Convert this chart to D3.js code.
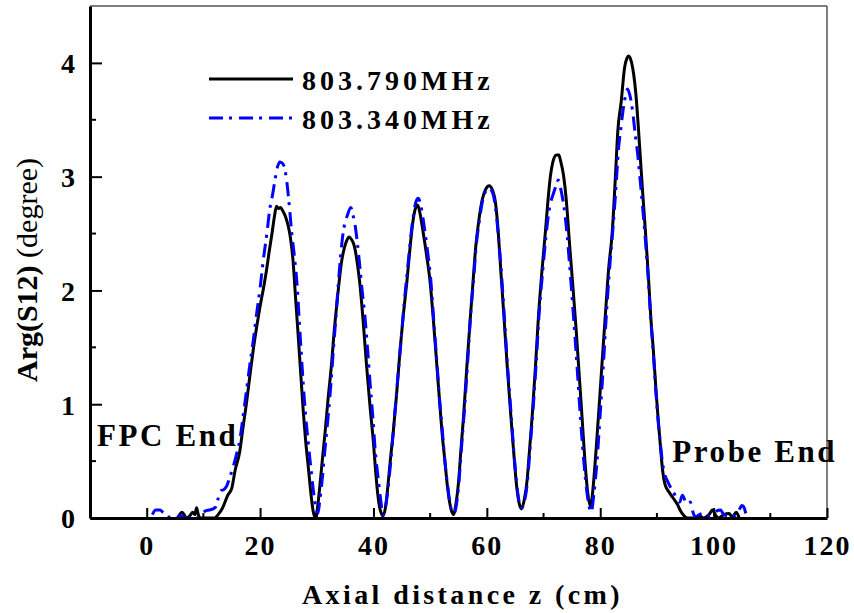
<!DOCTYPE html>
<html>
<head>
<meta charset="utf-8">
<script src="https://cdn.jsdelivr.net/npm/d3@7"></script>
<style>
  html, body { margin: 0; padding: 0; background: #fff; }
  svg { display: block; }
  text { font-family: "Liberation Serif", "Times New Roman", serif; fill: #000; }
</style>
</head>
<body>
<svg id="chart" width="854" height="613"></svg>
<script>
// Phase of S12 along the cavity axis, bead-pull measurement at two frequencies.
const seriesNames = ["803.790MHz", "803.340MHz"];

// 803.790 MHz: axial position (cm) and phase (degree)
const zA = [5.5,6.2,6.6,7.0,7.6,8.1,8.5,8.8,9.1,9.4,12.0,12.6,13.4,14.3,15.0,15.6,16.4,17.0,17.6,18.2,18.8,19.4,20.0,20.6,21.2,21.6,22.1,22.5,22.9,23.2,23.6,24.0,24.4,24.9,25.3,25.8,26.2,26.7,27.2,27.6,28.0,28.5,29.0,29.4,29.8,30.2,30.6,31.0,31.5,32.0,32.6,33.0,33.5,34.0,34.4,34.9,35.3,35.7,36.1,36.5,36.8,37.2,37.6,38.2,38.8,39.4,40.0,40.4,40.8,41.2,41.7,42.2,42.6,43.0,43.5,44.1,44.7,45.3,45.9,46.5,47.0,47.4,47.8,48.2,48.8,49.4,50.0,50.6,51.2,51.7,52.1,52.6,53.0,53.5,54.1,54.6,55.0,55.4,55.9,56.5,57.1,57.6,58.0,58.6,59.2,59.8,60.4,61.0,61.5,62.0,62.4,63.0,63.6,64.2,64.7,65.3,65.7,66.1,66.6,67.1,67.5,68.0,68.6,69.1,69.7,70.3,70.8,71.2,71.6,71.9,72.3,72.7,73.0,73.5,74.0,74.6,75.2,75.8,76.3,76.8,77.3,77.8,78.3,78.8,79.3,79.9,80.4,80.9,81.5,82.1,82.7,83.1,83.7,84.3,84.7,85.0,85.5,85.9,86.3,86.7,87.1,87.5,88.0,88.5,88.9,89.4,89.8,90.2,90.6,91.0,91.4,92.1,92.8,93.6,94.2,94.8,95.4,96.5,97.5,98.2,99.2,99.8,100.4,100.9,101.8,102.7,103.3,104.0,104.5];
const vA = [0.00,0.05,0.03,0.00,0.02,0.05,0.03,0.09,0.03,0.00,0.00,0.03,0.09,0.20,0.26,0.42,0.58,0.80,1.01,1.25,1.48,1.68,1.86,2.02,2.20,2.34,2.50,2.64,2.74,2.72,2.73,2.70,2.66,2.58,2.48,2.27,1.98,1.62,1.25,0.95,0.70,0.45,0.20,0.05,0.00,0.12,0.31,0.52,0.77,1.05,1.35,1.60,1.86,2.10,2.26,2.38,2.44,2.47,2.45,2.41,2.35,2.22,2.06,1.72,1.33,0.98,0.66,0.40,0.19,0.07,0.02,0.12,0.31,0.52,0.76,1.10,1.48,1.80,2.08,2.40,2.62,2.72,2.75,2.68,2.50,2.30,2.07,1.72,1.33,1.00,0.75,0.50,0.30,0.12,0.03,0.14,0.31,0.58,0.90,1.35,1.77,2.10,2.36,2.62,2.80,2.89,2.92,2.88,2.78,2.52,2.22,1.78,1.33,0.92,0.60,0.26,0.13,0.08,0.16,0.33,0.58,0.90,1.35,1.77,2.16,2.50,2.80,3.00,3.12,3.17,3.19,3.19,3.14,3.02,2.80,2.40,2.02,1.62,1.25,0.88,0.50,0.22,0.10,0.30,0.62,1.05,1.42,1.78,2.20,2.50,3.02,3.40,3.66,3.96,4.04,4.06,4.01,3.90,3.72,3.45,3.15,2.85,2.50,2.12,1.78,1.45,1.15,0.88,0.64,0.42,0.30,0.23,0.18,0.12,0.06,0.02,0.00,0.00,0.02,0.00,0.03,0.07,0.02,0.00,0.03,0.04,0.01,0.05,0.00];

// 803.340 MHz: axial position (cm) and phase (degree)
const zB = [1.0,1.6,2.3,2.9,3.5,4.2,5.0,6.0,7.0,8.0,9.0,9.6,10.3,11.0,11.7,12.2,12.6,13.1,13.6,14.1,14.6,15.2,15.8,16.4,17.0,17.6,18.2,18.8,19.4,20.0,20.6,21.2,21.7,22.2,22.6,23.1,23.5,23.9,24.4,24.8,25.2,25.6,26.1,26.5,27.0,27.6,28.0,28.5,29.0,29.4,29.8,30.2,30.5,30.9,31.4,32.0,32.5,32.9,33.4,33.8,34.2,34.6,35.0,35.4,36.0,36.4,36.8,37.2,37.6,38.0,38.5,39.0,39.4,39.9,40.3,40.8,41.2,41.7,42.2,42.7,43.2,43.7,44.2,44.8,45.4,46.0,46.6,47.1,47.5,47.9,48.3,48.9,49.5,50.1,50.6,51.2,51.7,52.2,52.6,53.1,53.6,54.2,54.7,55.1,55.5,56.0,56.6,57.1,57.7,58.1,58.7,59.3,59.9,60.4,61.0,61.5,62.0,62.5,63.1,63.7,64.3,64.8,65.4,65.8,66.2,66.7,67.2,67.6,68.1,68.7,69.2,69.8,70.4,70.9,71.4,71.8,72.2,72.6,73.0,73.4,73.8,74.2,74.7,75.3,75.9,76.4,76.9,77.4,77.9,78.4,78.9,79.4,80.0,80.5,81.0,81.6,82.2,82.7,83.2,83.7,84.1,84.5,84.8,85.2,85.7,86.2,86.6,87.1,87.5,88.0,88.5,88.9,89.4,89.8,90.2,90.6,91.0,91.4,91.8,92.3,92.7,93.2,93.6,94.0,94.5,95.0,95.4,95.9,96.3,96.8,97.5,98.2,99.0,99.8,100.5,101.2,101.8,102.4,103.0,103.7,104.4,105.0,105.3,105.7,106.2];
const vB = [0.03,0.07,0.07,0.05,0.03,0.00,0.00,0.02,0.00,0.01,0.00,0.03,0.06,0.07,0.08,0.10,0.17,0.24,0.25,0.28,0.35,0.44,0.55,0.68,0.89,1.12,1.35,1.56,1.80,2.02,2.28,2.50,2.71,2.84,2.96,3.09,3.13,3.12,3.06,2.92,2.72,2.50,2.28,2.07,1.66,1.19,0.92,0.66,0.42,0.24,0.10,0.04,0.14,0.31,0.58,0.89,1.18,1.46,1.78,2.06,2.30,2.49,2.60,2.66,2.73,2.66,2.56,2.40,2.21,2.00,1.77,1.46,1.19,0.88,0.60,0.36,0.19,0.03,0.12,0.32,0.58,0.88,1.18,1.52,1.88,2.18,2.48,2.68,2.78,2.81,2.76,2.58,2.36,2.10,1.76,1.36,1.02,0.74,0.50,0.28,0.10,0.04,0.14,0.33,0.60,0.92,1.36,1.76,2.12,2.38,2.62,2.80,2.88,2.90,2.86,2.74,2.50,2.20,1.76,1.30,0.90,0.56,0.24,0.12,0.09,0.16,0.34,0.60,0.92,1.36,1.78,2.14,2.46,2.68,2.80,2.86,2.92,2.97,2.90,2.80,2.66,2.46,2.16,1.76,1.34,0.96,0.62,0.34,0.14,0.05,0.22,0.48,0.92,1.30,1.72,2.16,2.52,2.85,3.23,3.45,3.61,3.72,3.77,3.72,3.58,3.36,3.20,2.94,2.72,2.42,2.08,1.76,1.42,1.12,0.86,0.66,0.48,0.38,0.33,0.28,0.25,0.20,0.16,0.14,0.20,0.15,0.13,0.14,0.06,0.01,0.03,0.04,0.02,0.03,0.06,0.07,0.03,0.02,0.03,0.02,0.06,0.11,0.10,0.04,0.00];

const xTicks = [0, 20, 40, 60, 80, 100, 120];
const xMinor = [-10, 10, 30, 50, 70, 90, 110];
const yTicks = [0, 1, 2, 3, 4];
const yMinor = [0.5, 1.5, 2.5, 3.5];
const xTitle = "Axial distance z (cm)";
const yTitleBold = "Arg(S12)";
const yTitleRegular = " (degree)";
const notes = [
  { text: "FPC End", z: -10, v: 0.63, dx: 7 },
  { text: "Probe End", z: 92.7, v: 0.49, dx: 0 }
];

const svg = d3.select("#chart");
const mLeft = 90, mRight = 827, mTop = 6, mBottom = 518;

const x = d3.scaleLinear().domain([-10, 120]).range([mLeft, mRight]);
const y = d3.scaleLinear().domain([0, 4.5]).range([mBottom, mTop]);

// clip the traces to the plotting frame
svg.append("defs").append("clipPath").attr("id", "plotClip")
  .append("rect").attr("x", mLeft).attr("y", mTop).attr("width", mRight - mLeft).attr("height", mBottom - mTop);

// thin top/right frame
svg.append("line").attr("x1", mLeft).attr("x2", mRight).attr("y1", mTop).attr("y2", mTop)
  .attr("stroke", "#555").attr("stroke-width", 1.5);
svg.append("line").attr("x1", mRight).attr("x2", mRight).attr("y1", mTop).attr("y2", mBottom)
  .attr("stroke", "#555").attr("stroke-width", 1.5);

// traces
const line = d3.line().x(d => x(d[0])).y(d => y(d[1])).curve(d3.curveMonotoneX);
const dataA = zA.map((z, i) => [z, vA[i]]);
const dataB = zB.map((z, i) => [z, vB[i]]);
const plot = svg.append("g").attr("clip-path", "url(#plotClip)");
plot.append("path").datum(dataA).attr("d", line)
  .attr("fill", "none").attr("stroke", "#000").attr("stroke-width", 3).attr("stroke-linejoin", "round");
plot.append("path").datum(dataB).attr("d", line)
  .attr("fill", "none").attr("stroke", "#0000ff").attr("stroke-width", 3)
  .attr("stroke-dasharray", "14,6,3,7");

// bottom axis
const gx = svg.append("g").attr("transform", `translate(0,${mBottom})`);
gx.call(d3.axisBottom(x).tickValues(xTicks).tickSizeInner(-10).tickSizeOuter(0).tickFormat(d3.format("d")));
gx.select(".domain").attr("stroke", "#000").attr("stroke-width", 3);
gx.selectAll(".tick line").attr("stroke-width", 2);
gx.selectAll(".tick text").attr("y", 37).attr("dy", 0)
  .style("font-size", "28px").style("font-weight", "bold").style("letter-spacing", "2px")
  .style("font-family", "'Liberation Serif', serif");
gx.selectAll(".minor").data(xMinor).enter().append("line")
  .attr("x1", d => x(d)).attr("x2", d => x(d)).attr("y1", 0).attr("y2", -5)
  .attr("stroke", "#000").attr("stroke-width", 2);

// left axis
const gy = svg.append("g").attr("transform", `translate(${mLeft},0)`);
gy.call(d3.axisLeft(y).tickValues(yTicks).tickSizeInner(-12).tickSizeOuter(0).tickFormat(d3.format("d")));
gy.select(".domain").attr("stroke", "#000").attr("stroke-width", 3);
gy.selectAll(".tick line").attr("stroke-width", 2);
gy.selectAll(".tick text").attr("x", -15).attr("dy", "0.35em")
  .style("font-size", "28px").style("font-weight", "bold")
  .style("font-family", "'Liberation Serif', serif");
gy.selectAll(".minor").data(yMinor).enter().append("line")
  .attr("x1", 0).attr("x2", 6).attr("y1", d => y(d)).attr("y2", d => y(d))
  .attr("stroke", "#000").attr("stroke-width", 2);

// axis titles
svg.append("text").attr("x", (mLeft + mRight) / 2 + 4).attr("y", 604)
  .attr("text-anchor", "middle").style("font-size", "28px").style("font-weight", "bold")
  .style("letter-spacing", "3.4px").text(xTitle);
const yt = svg.append("text").attr("transform", `translate(37,270) rotate(-90)`)
  .attr("text-anchor", "middle").style("font-size", "30px");
yt.append("tspan").style("font-weight", "bold").text(yTitleBold);
yt.append("tspan").text(yTitleRegular);

// end annotations
svg.selectAll(".note").data(notes).enter().append("text")
  .attr("x", d => x(d.z) + d.dx).attr("y", d => y(d.v))
  .style("font-size", "31px").style("font-weight", "bold").style("letter-spacing", "2.6px")
  .text(d => d.text);

// legend
const legend = svg.append("g");
const legendRows = [
  { name: seriesNames[0], color: "#000", dash: null, yLine: 79 },
  { name: seriesNames[1], color: "#0000ff", dash: "14,6,3,7", yLine: 118 }
];
legendRows.forEach(r => {
  legend.append("line").attr("x1", 209).attr("x2", 293).attr("y1", r.yLine).attr("y2", r.yLine)
    .attr("stroke", r.color).attr("stroke-width", 3).attr("stroke-dasharray", r.dash);
  legend.append("text").attr("x", 302).attr("y", r.yLine + 11)
    .style("font-size", "28px").style("font-weight", "bold").style("letter-spacing", "4px")
    .text(r.name);
});
</script>
</body>
</html>
